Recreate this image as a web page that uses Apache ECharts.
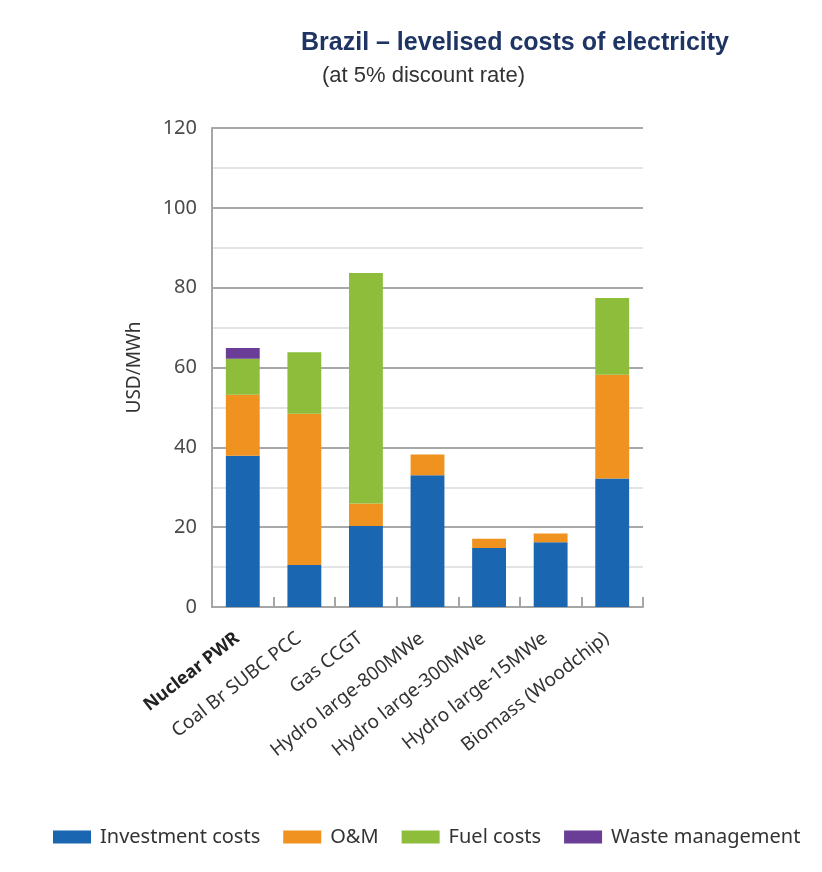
<!DOCTYPE html>
<html>
<head>
<meta charset="utf-8">
<title>Brazil – levelised costs of electricity</title>
<script src="https://cdn.jsdelivr.net/npm/echarts@6/dist/echarts.min.js"></script>
<style>
  html, body { margin: 0; padding: 0; background: #ffffff; }
  #chart { width: 822px; height: 872px; }
</style>
</head>
<body>
<div id="chart"></div>
<script>
// Technologies shown along the x axis
const categories = [
  'Nuclear PWR',
  'Coal Br SUBC PCC',
  'Gas CCGT',
  'Hydro large-800MWe',
  'Hydro large-300MWe',
  'Hydro large-15MWe',
  'Biomass (Woodchip)'
];

// Cost components, USD/MWh
const investmentCosts = [37.9, 10.5, 20.3, 33.0, 14.8, 16.2, 32.2];
const omCosts         = [15.3, 37.9, 5.6, 5.2, 2.3, 2.2, 26.0];
const fuelCosts       = [9.0, 15.4, 57.8, 0, 0, 0, 19.2];
const wasteManagement = [2.7, 0, 0, 0, 0, 0, 0];

const seriesNames = ['Investment costs', 'O&M', 'Fuel costs', 'Waste management'];
const seriesColors = ['#1a66b0', '#f0921f', '#8dbd3a', '#6a3e97'];

// Value axis ticks
const yMin = 0, yMax = 120, yStep = 20;

const chart = echarts.init(document.getElementById('chart'), null, { renderer: 'canvas' });

const fontFamily = '"Noto Sans", "Open Sans", sans-serif';

function barSeries(name, data, color) {
  return {
    name: name,
    type: 'bar',
    stack: 'total',
    barWidth: '55%',
    itemStyle: { color: color },
    emphasis: { disabled: true },
    data: data.map(v => (v === 0 ? null : v))
  };
}

const option = {
  backgroundColor: '#ffffff',
  animation: false,
  title: [
    {
      text: 'Brazil – levelised costs of electricity',
      left: 296,
      top: 26,
      textStyle: {
        fontFamily: '"Liberation Sans Narrow", "Liberation Sans", Arial, sans-serif',
        fontWeight: 'bold',
        fontSize: 25,
        color: '#1e3564'
      }
    },
    {
      text: '(at 5% discount rate)',
      left: 317,
      top: 60,
      textStyle: {
        fontFamily: '"Liberation Sans", Arial, sans-serif',
        fontWeight: 'normal',
        fontSize: 22,
        color: '#333333'
      }
    }
  ],
  legend: {
    data: seriesNames,
    left: 48,
    top: 822,
    itemWidth: 38,
    itemHeight: 13,
    itemGap: 23,
    icon: 'rect',
    textStyle: { fontFamily: fontFamily, fontSize: 20, color: '#333333', padding: [0, 0, 0, 4] }
  },
  grid: { left: 212, right: 179, top: 128, bottom: 265, containLabel: false },
  xAxis: {
    type: 'category',
    data: categories,
    axisLine: { lineStyle: { color: '#a6a6a6', width: 2 } },
    axisTick: { show: true, inside: true, length: 10, alignWithLabel: false, lineStyle: { color: '#a6a6a6', width: 2 } },
    axisLabel: {
      rotate: 38,
      margin: 25,
      padding: [0, 7, 0, 0],
      fontFamily: fontFamily,
      fontSize: 19,
      color: '#333333',
      interval: 0,
      formatter: (value, idx) => (idx === 0 ? '{b|' + value + '}' : value),
      rich: {
        b: { fontFamily: fontFamily, fontSize: 18, fontWeight: 'bold', color: '#222222' }
      }
    }
  },
  yAxis: {
    type: 'value',
    min: yMin,
    max: yMax,
    interval: yStep,
    name: 'USD/MWh',
    nameLocation: 'middle',
    nameGap: 68,
    nameRotate: 90,
    nameTextStyle: { fontFamily: fontFamily, fontSize: 19, color: '#333333' },
    axisLine: { show: true, lineStyle: { color: '#a6a6a6', width: 2 } },
    axisTick: { show: false },
    axisLabel: { margin: 15, fontFamily: fontFamily, fontSize: 20, color: '#4a4a4a' },
    splitLine: { show: true, lineStyle: { color: '#a8a8a8', width: 2 } },
    minorTick: { show: false, splitNumber: 2 },
    minorSplitLine: { show: true, lineStyle: { color: '#dcdcdc', width: 1.5 } }
  },
  series: [
    barSeries(seriesNames[0], investmentCosts, seriesColors[0]),
    barSeries(seriesNames[1], omCosts, seriesColors[1]),
    barSeries(seriesNames[2], fuelCosts, seriesColors[2]),
    barSeries(seriesNames[3], wasteManagement, seriesColors[3])
  ]
};

chart.setOption(option);
</script>
</body>
</html>
